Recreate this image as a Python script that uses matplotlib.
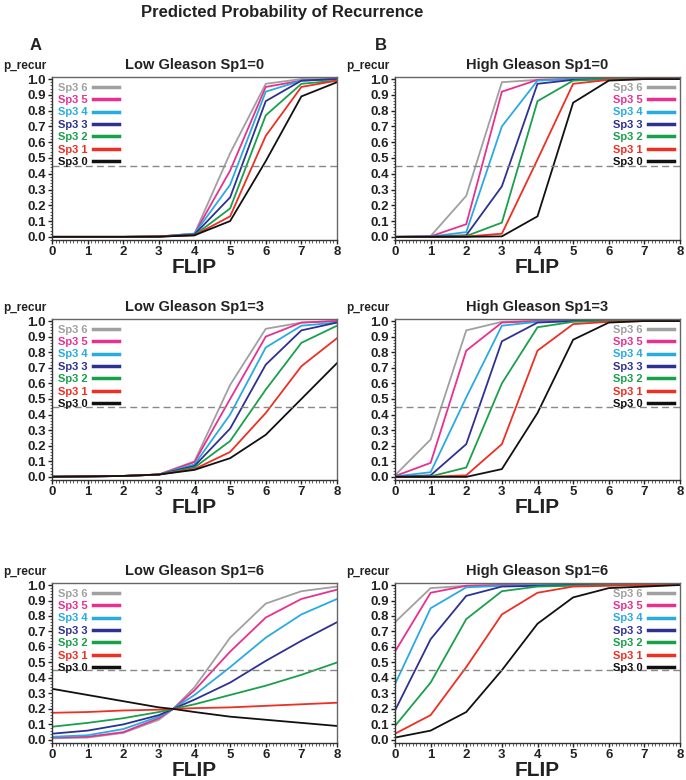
import matplotlib
matplotlib.use("Agg")
import matplotlib.pyplot as plt
from matplotlib.ticker import MultipleLocator

plt.rcParams['font.family'] = ['Liberation Sans', 'DejaVu Sans']
plt.rcParams['font.weight'] = 'bold'

series_labels = ["Sp3 6", "Sp3 5", "Sp3 4", "Sp3 3", "Sp3 2", "Sp3 1", "Sp3 0"]
series_colors = ["#a0a0a0", "#e8318f", "#29abe2", "#2e3192", "#19a04b", "#ed3023", "#111111"]

flip = [0, 1, 2, 3, 4, 5, 6, 7, 8]
flip_e = [0, 1, 2, 3, 3.4, 4, 5, 6, 7, 8]

titles = ["Low Gleason Sp1=0", "High Gleason Sp1=0",
          "Low Gleason Sp1=3", "High Gleason Sp1=3",
          "Low Gleason Sp1=6", "High Gleason Sp1=6"]

low_sp1_0 = [
    [0, 0, 0, 0.002, 0.02, 0.53, 0.97, 1.0, 1.0],
    [0, 0, 0, 0.002, 0.02, 0.42, 0.95, 0.99, 1.0],
    [0, 0, 0, 0.002, 0.02, 0.33, 0.92, 0.99, 1.0],
    [0, 0, 0, 0.002, 0.015, 0.25, 0.86, 0.99, 1.0],
    [0, 0, 0, 0.002, 0.01, 0.18, 0.77, 0.97, 0.99],
    [0, 0, 0, 0.002, 0.01, 0.13, 0.64, 0.95, 0.99],
    [0, 0, 0, 0.001, 0.01, 0.10, 0.48, 0.89, 0.98],
]
high_sp1_0 = [
    [0, 0.005, 0.26, 0.98, 0.995, 1.0, 1.0, 1.0, 1.0],
    [0, 0.003, 0.08, 0.92, 0.995, 1.0, 1.0, 1.0, 1.0],
    [0, 0.002, 0.03, 0.70, 0.99, 1.0, 1.0, 1.0, 1.0],
    [0, 0.001, 0.01, 0.32, 0.97, 0.995, 1.0, 1.0, 1.0],
    [0, 0.0, 0.005, 0.09, 0.86, 0.99, 1.0, 1.0, 1.0],
    [0, 0.0, 0.002, 0.02, 0.49, 0.97, 0.995, 1.0, 1.0],
    [0, 0.0, 0.0, 0.003, 0.13, 0.85, 0.99, 1.0, 1.0],
]
low_sp1_3 = [
    [0.001, 0.003, 0.006, 0.015, 0.10, 0.59, 0.95, 0.99, 1.0],
    [0.001, 0.003, 0.006, 0.015, 0.095, 0.50, 0.90, 0.99, 1.0],
    [0.001, 0.003, 0.006, 0.015, 0.08, 0.40, 0.83, 0.97, 0.99],
    [0.001, 0.003, 0.006, 0.015, 0.07, 0.31, 0.72, 0.94, 0.99],
    [0.001, 0.003, 0.006, 0.015, 0.06, 0.23, 0.56, 0.86, 0.97],
    [0.001, 0.003, 0.006, 0.015, 0.05, 0.16, 0.41, 0.71, 0.89],
    [0.001, 0.003, 0.006, 0.015, 0.045, 0.12, 0.27, 0.50, 0.73],
]
high_sp1_3 = [
    [0.01, 0.24, 0.94, 0.995, 1.0, 1.0, 1.0, 1.0, 1.0],
    [0.005, 0.09, 0.81, 0.99, 1.0, 1.0, 1.0, 1.0, 1.0],
    [0.003, 0.03, 0.51, 0.97, 0.995, 1.0, 1.0, 1.0, 1.0],
    [0.001, 0.01, 0.21, 0.87, 0.99, 1.0, 1.0, 1.0, 1.0],
    [0.0, 0.003, 0.06, 0.60, 0.96, 0.995, 1.0, 1.0, 1.0],
    [0.0, 0.001, 0.01, 0.21, 0.81, 0.98, 0.995, 1.0, 1.0],
    [0.0, 0.0, 0.0, 0.05, 0.41, 0.88, 0.99, 1.0, 1.0],
]
low_sp1_6 = [
    [0.01, 0.015, 0.045, 0.13, 0.20, 0.34, 0.66, 0.88, 0.96, 0.99],
    [0.015, 0.02, 0.05, 0.14, 0.20, 0.32, 0.57, 0.79, 0.91, 0.97],
    [0.02, 0.03, 0.07, 0.15, 0.20, 0.29, 0.47, 0.66, 0.81, 0.91],
    [0.04, 0.06, 0.10, 0.16, 0.20, 0.26, 0.37, 0.51, 0.64, 0.76],
    [0.085, 0.11, 0.14, 0.18, 0.20, 0.23, 0.29, 0.35, 0.42, 0.50],
    [0.175, 0.18, 0.19, 0.195, 0.20, 0.205, 0.21, 0.22, 0.23, 0.24],
    [0.33, 0.29, 0.25, 0.21, 0.20, 0.18, 0.15, 0.13, 0.11, 0.09],
]
high_sp1_6 = [
    [0.76, 0.98, 0.995, 1.0, 1.0, 1.0, 1.0, 1.0, 1.0],
    [0.57, 0.95, 0.995, 1.0, 1.0, 1.0, 1.0, 1.0, 1.0],
    [0.36, 0.85, 0.985, 0.995, 1.0, 1.0, 1.0, 1.0, 1.0],
    [0.19, 0.65, 0.93, 0.99, 0.995, 1.0, 1.0, 1.0, 1.0],
    [0.09, 0.37, 0.78, 0.96, 0.99, 0.995, 1.0, 1.0, 1.0],
    [0.04, 0.16, 0.47, 0.81, 0.95, 0.99, 0.995, 1.0, 1.0],
    [0.015, 0.06, 0.18, 0.45, 0.75, 0.92, 0.98, 0.99, 1.0],
]

panel_data = [low_sp1_0, high_sp1_0, low_sp1_3, high_sp1_3, low_sp1_6, high_sp1_6]
panel_x = [flip, flip, flip, flip, flip_e, flip]
threshold = 0.45

W, H = 686, 780
fig = plt.figure(figsize=(W / 100, H / 100), dpi=100)

col_px = [(52, 337), (395, 680)]
row_px = [(77, 240), (319, 480), (583, 743)]

fig.text(282 / W, 1 - 13 / H, "Predicted Probability of Recurrence",
         ha='center', va='center', fontsize=12, fontweight='bold', color='#222222')
fig.text(30 / W, 1 - 45 / H, "A", ha='left', va='center', fontsize=12, fontweight='bold', color='#222222')
fig.text(375 / W, 1 - 45 / H, "B", ha='left', va='center', fontsize=12, fontweight='bold', color='#222222')

for i, (title, data, xs) in enumerate(zip(titles, panel_data, panel_x)):
    r, c = divmod(i, 2)
    l, rr = col_px[c]
    t, b = row_px[r]
    ax = fig.add_axes([l / W, 1 - b / H, (rr - l) / W, (b - t) / H])
    for lab, col, ys in zip(series_labels, series_colors, data):
        ax.plot(xs, ys, color=col, lw=1.3, label=lab, solid_joinstyle='miter')
    ax.axhline(threshold, color='#888888', lw=1.0, dashes=(5, 3))
    ax.set_xlim(0, 8)
    ax.set_ylim(-0.02, 1.013)
    ax.xaxis.set_major_locator(MultipleLocator(1))
    ax.xaxis.set_minor_locator(MultipleLocator(0.1))
    ax.yaxis.set_minor_locator(MultipleLocator(0.02))
    ax.set_yticks([k / 10 for k in range(11)])
    ax.set_yticklabels([f"{k / 10:.1f}" for k in range(11)])
    ax.tick_params(axis='both', which='major', direction='out', length=3, width=1,
                   labelsize=9.5, pad=1.5, colors='#222222')
    ax.tick_params(axis='both', which='minor', direction='out', length=1.8, width=0.6, colors='#444444')
    for lbl in ax.get_xticklabels() + ax.get_yticklabels():
        lbl.set_fontweight('bold')
    for s in ax.spines.values():
        s.set_color('#666666')
        s.set_linewidth(1.0)
    ax.spines['left'].set_color('#333333')
    ax.spines['bottom'].set_color('#333333')
    ax.set_title(title, fontsize=10.5, fontweight='bold', pad=6, color='#222222')
    ax.set_xlabel("FLIP", fontsize=15, fontweight='bold', labelpad=0, color='#222222')
    fig.text((l - 49) / W, 1 - (t - 11) / H, "p_recur", ha='left', va='center',
             fontsize=8.5, fontweight='bold', color='#222222')
    leg = ax.legend(loc='upper left' if c == 0 else 'upper right', markerfirst=False,
                    frameon=False, handlelength=2.4, handletextpad=0.5,
                    labelspacing=0.22, borderaxespad=0.1, labelcolor='linecolor',
                    prop={'size': 8, 'weight': 'bold'})
    for h in leg.get_lines():
        h.set_linewidth(2.5)

fig.savefig("out.png", dpi=100)
